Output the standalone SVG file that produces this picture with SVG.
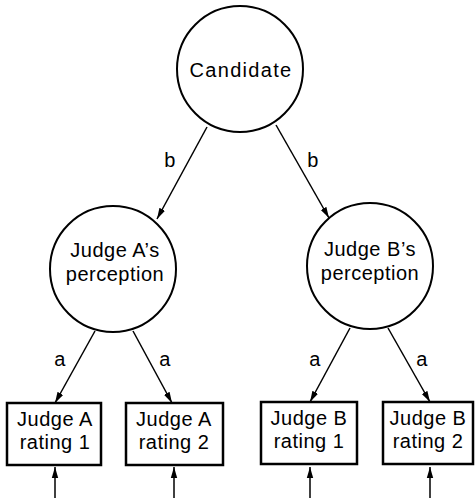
<svg xmlns="http://www.w3.org/2000/svg" width="475" height="498" viewBox="0 0 475 498">
<style>
.n{fill:#fff;stroke:#000;stroke-width:2}
.b{fill:#fff;stroke:#000;stroke-width:2.5}
.t{font-family:"Liberation Sans",Arial,sans-serif;font-size:20px;fill:#000;text-anchor:middle;letter-spacing:0.5px}
.c line{stroke:#000;stroke-width:1.5;marker-end:url(#ah)}
</style>
<defs>
<marker id="ah" markerWidth="12" markerHeight="8" refX="11" refY="4" orient="auto" markerUnits="userSpaceOnUse">
<path d="M0,0.8 L11,4 L0,7.2 Z" fill="#000"/>
</marker>
</defs>
<rect width="475" height="498" fill="#fff"/>
<g id="connectors" class="c">
<line x1="207" y1="127" x2="157" y2="219"/>
<line x1="276" y1="125" x2="329" y2="218"/>
<line x1="95" y1="331" x2="55" y2="403"/>
<line x1="133" y1="331" x2="172" y2="403"/>
<line x1="350" y1="328" x2="310" y2="402"/>
<line x1="388" y1="328" x2="430" y2="402"/>
<line x1="55" y1="498" x2="55" y2="467"/>
<line x1="174" y1="498" x2="174" y2="467"/>
<line x1="310" y1="498" x2="310" y2="467"/>
<line x1="430" y1="498" x2="430" y2="467"/>
</g>
<g id="labels">
<text class="t" x="170" y="167">b</text>
<text class="t" x="313" y="167">b</text>
<text class="t" x="60" y="366">a</text>
<text class="t" x="165" y="366">a</text>
<text class="t" x="315" y="366">a</text>
<text class="t" x="422" y="366">a</text>
</g>
<g id="candidate">
<circle class="n" cx="240" cy="69" r="63"/>
<text class="t" x="241" y="77" style="letter-spacing:1.3px">Candidate</text>
</g>
<g id="judgeA">
<circle class="n" cx="113" cy="269" r="63"/>
<text class="t" x="115" y="257">Judge A’s</text>
<text class="t" x="115" y="281">perception</text>
</g>
<g id="judgeB">
<circle class="n" cx="370" cy="266" r="63"/>
<text class="t" x="370" y="256">Judge B’s</text>
<text class="t" x="370" y="280">perception</text>
</g>
<g id="boxA1">
<rect class="b" x="7" y="403" width="94" height="62"/>
<text class="t" x="55" y="426">Judge A</text>
<text class="t" x="55" y="449">rating 1</text>
</g>
<g id="boxA2">
<rect class="b" x="126" y="403" width="97" height="62"/>
<text class="t" x="174" y="426">Judge A</text>
<text class="t" x="174" y="449">rating 2</text>
</g>
<g id="boxB1">
<rect class="b" x="261" y="402" width="96" height="62"/>
<text class="t" x="309" y="425">Judge B</text>
<text class="t" x="309" y="448">rating 1</text>
</g>
<g id="boxB2">
<rect class="b" x="383" y="402" width="90" height="62"/>
<text class="t" x="428" y="425">Judge B</text>
<text class="t" x="428" y="448">rating 2</text>
</g>
</svg>
